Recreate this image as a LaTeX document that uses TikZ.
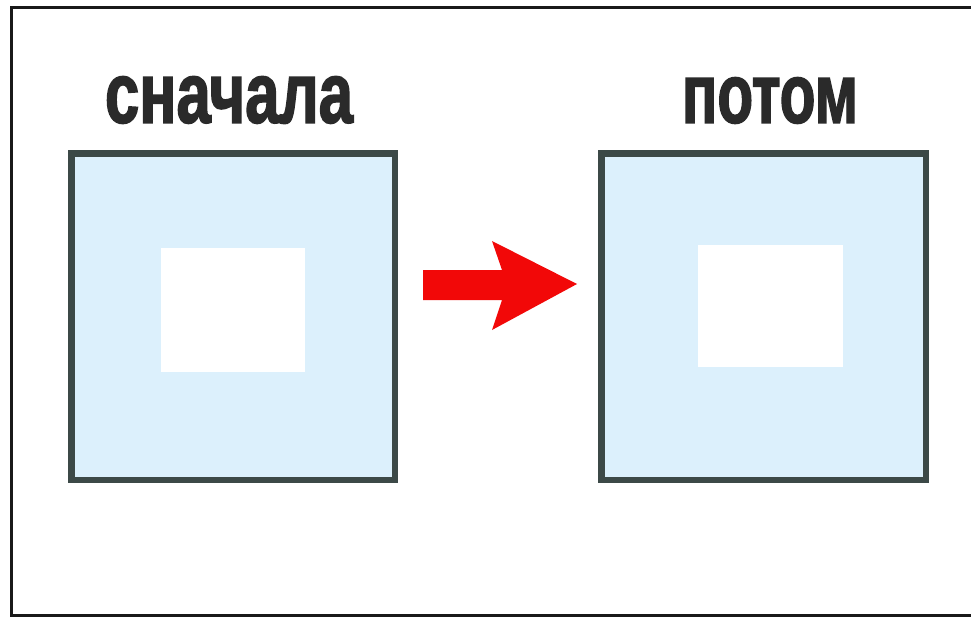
\documentclass[tikz,border=0pt]{standalone}
\usepackage{graphicx}
\usepackage{fontspec}
\setmainfont{Liberation Sans}
\newfontfamily\heavyfont{Liberation Sans Bold}[FakeBold=2.2]
\definecolor{frame}{HTML}{3C4947}
\definecolor{pale}{HTML}{DCF0FC}
\definecolor{ink}{HTML}{2A2A2A}
\definecolor{arrowred}{HTML}{F20808}
\tikzset{
  box/.style={draw=frame, fill=pale, line width=6.5pt, inner sep=0pt},
  hole/.style={fill=white, inner sep=0pt},
  caption/.style={text=ink, inner sep=0pt, font=\heavyfont}
}
\begin{document}
\begin{tikzpicture}[x=1pt, y=-1pt]
      \useasboundingbox (0,0) rectangle (971,618);
      \fill[white] (0,0) rectangle (971,618);
      \draw[line width=3pt, black!90] (971,7.5) -- (11,7.5) -- (11,615) -- (971,615);
      \draw
        (233.25,316.75) node[box, minimum width=323.5pt, minimum height=326.5pt] (before){}
        (763.75,316.75) node[box, minimum width=324.5pt, minimum height=326.5pt] (after){}
        (233,310) node[hole, minimum width=144pt, minimum height=124pt] (beforehole){}
        (770.5,306) node[hole, minimum width=145pt, minimum height=122pt] (afterhole){}
        (229,100) node[caption] (first){\resizebox{248pt}{46pt}{сначала}}
        (770,100.5) node[caption] (then){\resizebox{176pt}{45pt}{потом}};
      \begin{scope}[fill=arrowred]
        \fill (423,270) -- (502,270) -- (492,241) -- (577,284)
          -- (492,330) -- (502,300) -- (423,300) -- cycle;
      \end{scope}
    \end{tikzpicture}
\end{document}
